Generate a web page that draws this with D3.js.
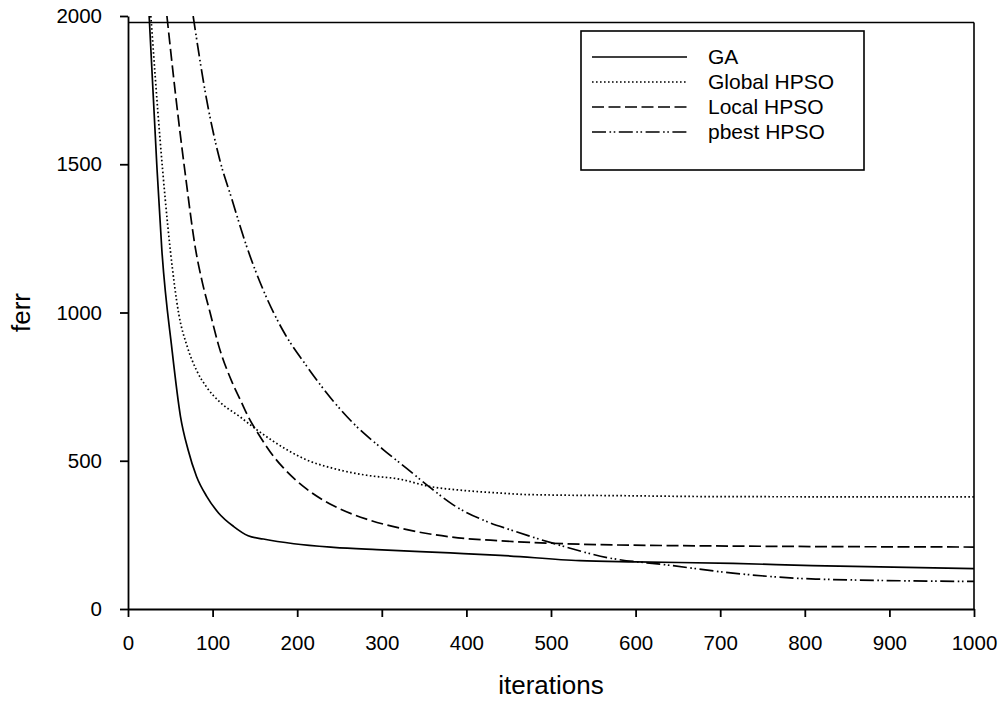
<!DOCTYPE html>
<html>
<head>
<meta charset="utf-8">
<script src="https://cdn.jsdelivr.net/npm/d3@7"></script>
<style>
  body { margin: 0; background: #fff; }
  svg { display: block; font-family: "Liberation Sans", Arial, sans-serif; }
</style>
</head>
<body>
<svg id="chart" width="1004" height="703"></svg>
<script>
// [iteration, ferr] pairs
const gaData = [
  [25, 2000], [34, 1500], [40, 1211], [52, 875], [62, 650], [71, 537], [81, 447],
  [93, 380], [107, 324], [125, 278], [142, 247], [160, 236], [196, 220], [243, 208],
  [294, 200], [381, 189], [440, 181], [534, 163], [600, 159], [715, 154],
  [809, 146], [1000, 136]
];
const globalData = [
  [27, 2000], [38, 1580], [50, 1211], [60, 995], [70, 885], [81, 805], [93, 748],
  [109, 697], [132, 649], [152, 605], [188, 537], [211, 503], [243, 474],
  [282, 451], [321, 438], [357, 413], [396, 400], [440, 391], [471, 386],
  [589, 382], [700, 379], [1000, 378]
];
const localData = [
  [46, 2000], [56, 1740], [68, 1460], [80, 1211], [88, 1100], [97, 1000],
  [107, 890], [123, 765], [133, 704], [142, 649], [156, 582], [172, 515],
  [184, 475], [211, 405], [243, 348], [282, 303], [321, 273], [381, 243],
  [440, 230], [518, 220], [636, 214], [1000, 209]
];
const pbestData = [
  [77, 2000], [93, 1717], [108, 1520], [123, 1380], [140, 1225], [160, 1075],
  [184, 935], [211, 820], [243, 700], [270, 616], [302, 537], [329, 475],
  [357, 410], [384, 352], [424, 295], [451, 268], [502, 222], [569, 172],
  [636, 149], [715, 121], [813, 101], [1000, 93]
];

const seriesNames = ["GA", "Global HPSO", "Local HPSO", "pbest HPSO"];
const seriesData = [gaData, globalData, localData, pbestData];
const dashes = ["none", "1.6,2.4", "12,4.5", "14,3.5,1.6,2.6,1.6,3.5"];

const xTicks = [0, 100, 200, 300, 400, 500, 600, 700, 800, 900, 1000];
const yTicks = [0, 500, 1000, 1500, 2000];

const svg = d3.select("#chart");
const margin = { top: 16, right: 30, bottom: 94, left: 128 };
const width = 1004, height = 703;
const innerWidth = width - margin.left - margin.right;
const innerHeight = height - margin.top - margin.bottom;

const x = d3.scaleLinear().domain([0, 1000]).range([0, innerWidth]);
const y = d3.scaleLinear().domain([0, 2000]).range([innerHeight, 0]);

const g = svg.append("g").attr("transform", `translate(${margin.left},${margin.top})`);

svg.append("defs").append("clipPath").attr("id", "plot-clip")
  .append("rect").attr("x", 0).attr("y", 0).attr("width", innerWidth).attr("height", innerHeight);

const line = d3.line()
  .x((d) => x(d[0]))
  .y((d) => y(d[1]))
  .curve(d3.curveMonotoneX);

const curves = g.append("g").attr("clip-path", "url(#plot-clip)");
seriesData.forEach((data, i) => {
  curves.append("path")
    .datum(data)
    .attr("fill", "none")
    .attr("stroke", "#000")
    .attr("stroke-width", 1.7)
    .attr("stroke-dasharray", dashes[i])
    .attr("d", line);
});

// frame: top line sits a bit under the 2000 tick, right line down to x axis
const frameTop = y(2000) + 6.5;
g.append("line").attr("x1", 0).attr("x2", innerWidth).attr("y1", frameTop).attr("y2", frameTop)
  .attr("stroke", "#000").attr("stroke-width", 1.6);
g.append("line").attr("x1", innerWidth).attr("x2", innerWidth).attr("y1", frameTop).attr("y2", innerHeight)
  .attr("stroke", "#000").attr("stroke-width", 1.6);

const xAxis = g.append("g")
  .attr("transform", `translate(0,${innerHeight})`)
  .call(d3.axisBottom(x).tickValues(xTicks).tickFormat(d3.format("d")).tickSize(8).tickSizeOuter(0).tickPadding(18));
const yAxis = g.append("g")
  .call(d3.axisLeft(y).tickValues(yTicks).tickFormat(d3.format("d")).tickSize(8).tickSizeOuter(0).tickPadding(18));

[xAxis, yAxis].forEach((ax) => {
  ax.attr("font-size", null).attr("font-family", null);
  ax.selectAll("path, line").attr("stroke", "#000").attr("stroke-width", 1.8);
  ax.selectAll("text").attr("fill", "#000").style("font-size", "20.5px");
});

svg.append("text")
  .attr("x", margin.left + innerWidth / 2)
  .attr("y", 694)
  .attr("text-anchor", "middle")
  .style("font-size", "26px")
  .text("iterations");

svg.append("text")
  .attr("transform", "rotate(-90)")
  .attr("x", -(margin.top + innerHeight / 2))
  .attr("y", 30)
  .attr("text-anchor", "middle")
  .style("font-size", "26px")
  .text("ferr");

// legend
const legend = svg.append("g").attr("transform", "translate(581,31)");
legend.append("rect")
  .attr("width", 283).attr("height", 139)
  .attr("fill", "#fff").attr("stroke", "#000").attr("stroke-width", 1.6);

seriesNames.forEach((name, i) => {
  const row = legend.append("g").attr("transform", `translate(0,${26 + i * 25})`);
  row.append("line")
    .attr("x1", 11).attr("x2", 106)
    .attr("stroke", "#000").attr("stroke-width", 1.7)
    .attr("stroke-dasharray", dashes[i]);
  row.append("text")
    .attr("x", 127).attr("dy", "0.35em")
    .style("font-size", "21px")
    .text(name);
});
</script>
</body>
</html>
